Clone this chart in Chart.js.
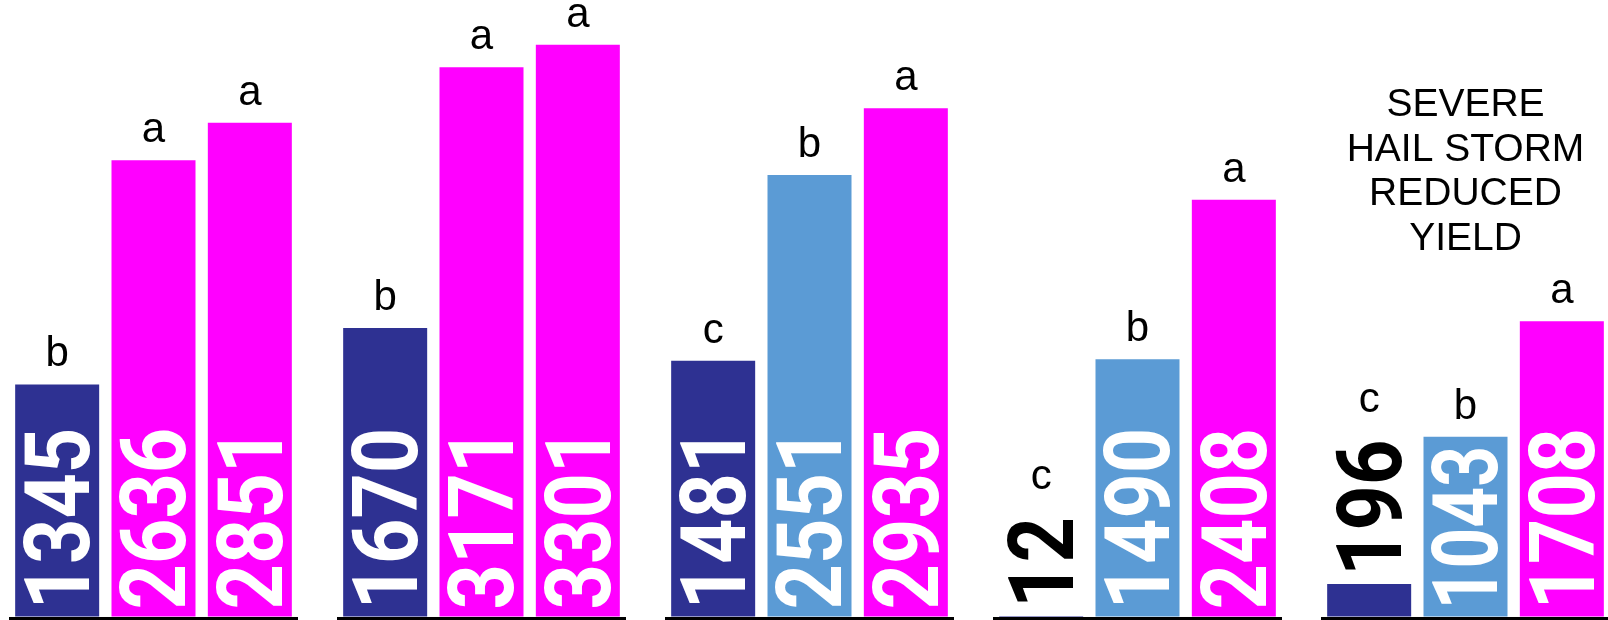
<!DOCTYPE html>
<html>
<head>
<meta charset="utf-8">
<script src="https://cdn.jsdelivr.net/npm/chart.js@4.4.0/dist/chart.umd.min.js"></script>
<style>
  body { margin: 0; background: #fff; }
  #wrap { position: relative; width: 1608px; height: 620px; overflow: hidden; }
  .panel { position: absolute; top: 0; }
</style>
</head>
<body>
<div id="wrap"></div>
<script>
// yield per treatment, one entry per panel (left to right)
const treatmentA = [1345, 1670, 1481, 12, 196];
const treatmentB = [2636, 3171, 2551, 1490, 1043];
const treatmentC = [2851, 3301, 2935, 2408, 1708];

// mean separation letters
const lettersA = ['b', 'b', 'c', 'c', 'c'];
const lettersB = ['a', 'a', 'b', 'b', 'b'];
const lettersC = ['a', 'a', 'a', 'a', 'a'];

// note shown over the last panel
const panelNotes = [[], [], [], [], ['SEVERE', 'HAIL STORM', 'REDUCED', 'YIELD']];

const gridStep = 750;
const axisMax = 3558;

const colors = {
    navy: '#2E3192',
    magenta: '#FF00FF',
    blue: '#5B9BD5',
    grid: '#dadada'
}
const secondColors = [colors.magenta, colors.magenta, colors.blue, colors.blue, colors.blue];

const fontFamily = '"Liberation Sans", Arial, sans-serif';
const valueFont = 'Roboto, "Liberation Sans", sans-serif';
const valueSize = 90;
const valueSqueeze = 0.88;
const letterSize = 42;

const panelLeft = [9, 337, 665, 993, 1321];
const panelWidth = 289;

const barLabels = {
    id: 'barLabels',
    afterDatasetsDraw(chart, args, opts) {
        const ctx = chart.ctx;
        const ds = chart.data.datasets[0];
        chart.getDatasetMeta(0).data.forEach((bar, i) => {
            const txt = String(ds.data[i]);
            const h = bar.base - bar.y;
            ctx.save();
            ctx.font = `700 ${valueSize}px ${valueFont}`;
            const w = ctx.measureText(txt).width;
            let sx = valueSqueeze;
            let start, color = '#fff', inside = true;
            if (h >= 120) {
                start = bar.base - 7;
                sx = Math.min(valueSqueeze, (h - 16) / w);
            } else {
                inside = false;
                color = '#000';
                start = bar.y - 8;
            }
            ctx.fillStyle = color;
            ctx.textAlign = 'left';
            ctx.textBaseline = 'alphabetic';
            ctx.translate(bar.x, start);
            ctx.rotate(-Math.PI / 2);
            ctx.scale(sx, 1);
            ctx.fillText(txt, 0, valueSize * 0.711 / 2);
            ctx.restore();

            // letter above the bar (or above the label when it sits outside)
            const letterY = inside ? bar.y - 18 : start - w * sx - 28;
            ctx.save();
            ctx.font = `${letterSize}px ${fontFamily}`;
            ctx.fillStyle = '#000';
            ctx.textAlign = 'center';
            ctx.textBaseline = 'alphabetic';
            ctx.fillText(opts.letters[i], bar.x, letterY);
            ctx.restore();
        });

        if (opts.note.length) {
            ctx.save();
            ctx.font = `39px ${fontFamily}`;
            ctx.fillStyle = '#000';
            ctx.textAlign = 'center';
            ctx.textBaseline = 'alphabetic';
            opts.note.forEach((line, k) => {
                ctx.fillText(line, chart.width / 2, 116 + k * 44.5);
            });
            ctx.restore();
        }
    }
}

const wrap = document.getElementById('wrap');

treatmentA.forEach((_, p) => {
    const div = document.createElement('div');
    div.className = 'panel';
    div.style.left = panelLeft[p] + 'px';
    const canvas = document.createElement('canvas');
    canvas.width = panelWidth;
    canvas.height = 620;
    div.appendChild(canvas);
    wrap.appendChild(div);

    new Chart(canvas.getContext('2d'), {
        type: 'bar',
        data: {
            labels: ['A', 'B', 'C'],
            datasets: [{
                data: [treatmentA[p], treatmentB[p], treatmentC[p]],
                backgroundColor: [colors.navy, secondColors[p], colors.magenta],
                borderWidth: 0,
                barPercentage: 0.872,
                categoryPercentage: 1
            }]
        },
        plugins: [barLabels],
        options: {
            responsive: false,
            animation: false,
            layout: { padding: { top: 0, bottom: 2, left: 0, right: 0 } },
            plugins: {
                legend: { display: false },
                tooltip: { enabled: false },
                barLabels: {
                    letters: [lettersA[p], lettersB[p], lettersC[p]],
                    note: panelNotes[p]
                }
            },
            scales: {
                x: { display: false },
                y: {
                    min: 0,
                    max: axisMax,
                    afterFit: (s) => { s.width = 0; },
                    border: { display: false },
                    ticks: { display: false, stepSize: gridStep, includeBounds: false },
                    grid: {
                        drawTicks: false,
                        lineWidth: 3,
                        color: (c) => c.tick.value === 0 ? '#000' :
                            (c.tick.value % gridStep === 0 ? colors.grid : 'transparent')
                    }
                }
            }
        }
    });
});
</script>
</body>
</html>
